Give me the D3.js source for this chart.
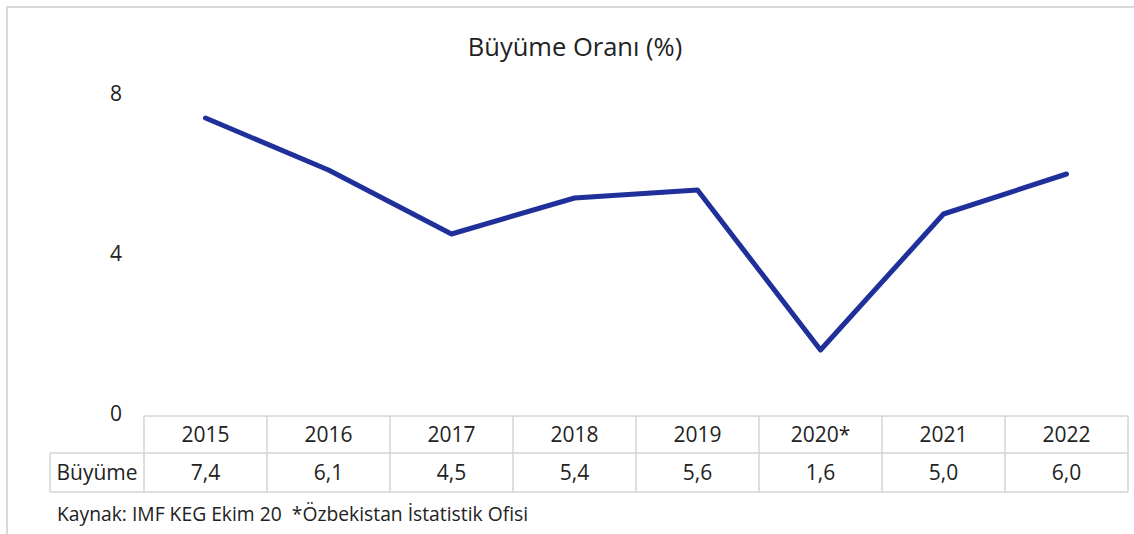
<!DOCTYPE html>
<html>
<head>
<meta charset="utf-8">
<script src="https://cdn.jsdelivr.net/npm/d3@7"></script>
<style>
body { margin: 0; background: #fff; }
text { font-family: "Open Sans", "Noto Sans", sans-serif; fill: #222; white-space: pre; }
</style>
</head>
<body>
<div id="chart"></div>
<script>
var years = ["2015", "2016", "2017", "2018", "2019", "2020*", "2021", "2022"];
var growth = [7.4, 6.1, 4.5, 5.4, 5.6, 1.6, 5.0, 6.0];
var yTicks = [0, 4, 8];
var rowLabel = "Büyüme";
var title = "Büyüme Oranı (%)";
var source = "Kaynak: IMF KEG Ekim 20  *Özbekistan İstatistik Ofisi";

var width = 1134, height = 534;

var svg = d3.select("#chart").append("svg")
  .attr("width", width)
  .attr("height", height);

// outer frame (top and left only visible)
svg.append("path")
  .attr("d", "M7,534 V7 H1134")
  .attr("fill", "none")
  .attr("stroke", "#d9d9d9")
  .attr("stroke-width", 2);

var x = d3.scaleBand()
  .domain(years)
  .range([144, 1128]);

var y = d3.scaleLinear()
  .domain([0, 8])
  .range([414, 94]);

svg.append("text")
  .attr("x", 575)
  .attr("y", 56)
  .attr("text-anchor", "middle")
  .style("font-size", "25.5px")
  .text(title);

// y tick labels
svg.selectAll(".ytick")
  .data(yTicks)
  .enter().append("text")
  .attr("class", "ytick")
  .attr("x", 116)
  .attr("y", function (d) { return y(d); })
  .attr("dy", "0.35em")
  .attr("text-anchor", "middle")
  .style("font-size", "21px")
  .text(function (d) { return d; });

var line = d3.line()
  .x(function (d, i) { return x(years[i]) + x.bandwidth() / 2; })
  .y(function (d) { return y(d); });

svg.append("path")
  .datum(growth)
  .attr("d", line)
  .attr("fill", "none")
  .attr("stroke", "#20309a")
  .attr("stroke-width", 5)
  .attr("stroke-linecap", "round")
  .attr("stroke-linejoin", "round");

// data table
var top1 = 416, top2 = 453, bottom = 492;
var grid = svg.append("g")
  .attr("stroke", "#d4d4d4")
  .attr("stroke-width", 1.5)
  .attr("fill", "none");

grid.append("line").attr("x1", 144).attr("x2", 1128).attr("y1", top1).attr("y2", top1);
grid.append("line").attr("x1", 50).attr("x2", 1128).attr("y1", top2).attr("y2", top2);
grid.append("line").attr("x1", 50).attr("x2", 1128).attr("y1", bottom).attr("y2", bottom);
grid.append("line").attr("x1", 50).attr("x2", 50).attr("y1", top2).attr("y2", bottom);

grid.selectAll(".vline")
  .data(years)
  .enter().append("line")
  .attr("class", "vline")
  .attr("x1", function (d) { return x(d); })
  .attr("x2", function (d) { return x(d); })
  .attr("y1", top1)
  .attr("y2", bottom);
grid.append("line").attr("x1", 1128).attr("x2", 1128).attr("y1", top1).attr("y2", bottom);

svg.selectAll(".year")
  .data(years)
  .enter().append("text")
  .attr("class", "year")
  .attr("x", function (d) { return x(d) + x.bandwidth() / 2; })
  .attr("y", (top1 + top2) / 2)
  .attr("dy", "0.35em")
  .attr("text-anchor", "middle")
  .style("font-size", "21px")
  .text(function (d) { return d; });

svg.selectAll(".val")
  .data(growth)
  .enter().append("text")
  .attr("class", "val")
  .attr("x", function (d, i) { return x(years[i]) + x.bandwidth() / 2; })
  .attr("y", (top2 + bottom) / 2)
  .attr("dy", "0.35em")
  .attr("text-anchor", "middle")
  .style("font-size", "21px")
  .text(function (d) { return d3.format(".1f")(d).replace(".", ","); });

svg.append("text")
  .attr("x", 97)
  .attr("y", (top2 + bottom) / 2)
  .attr("dy", "0.35em")
  .attr("text-anchor", "middle")
  .style("font-size", "21px")
  .text(rowLabel);

svg.append("text")
  .attr("x", 57)
  .attr("y", 521)
  .style("font-size", "19.3px")
  .text(source);
</script>
</body>
</html>
